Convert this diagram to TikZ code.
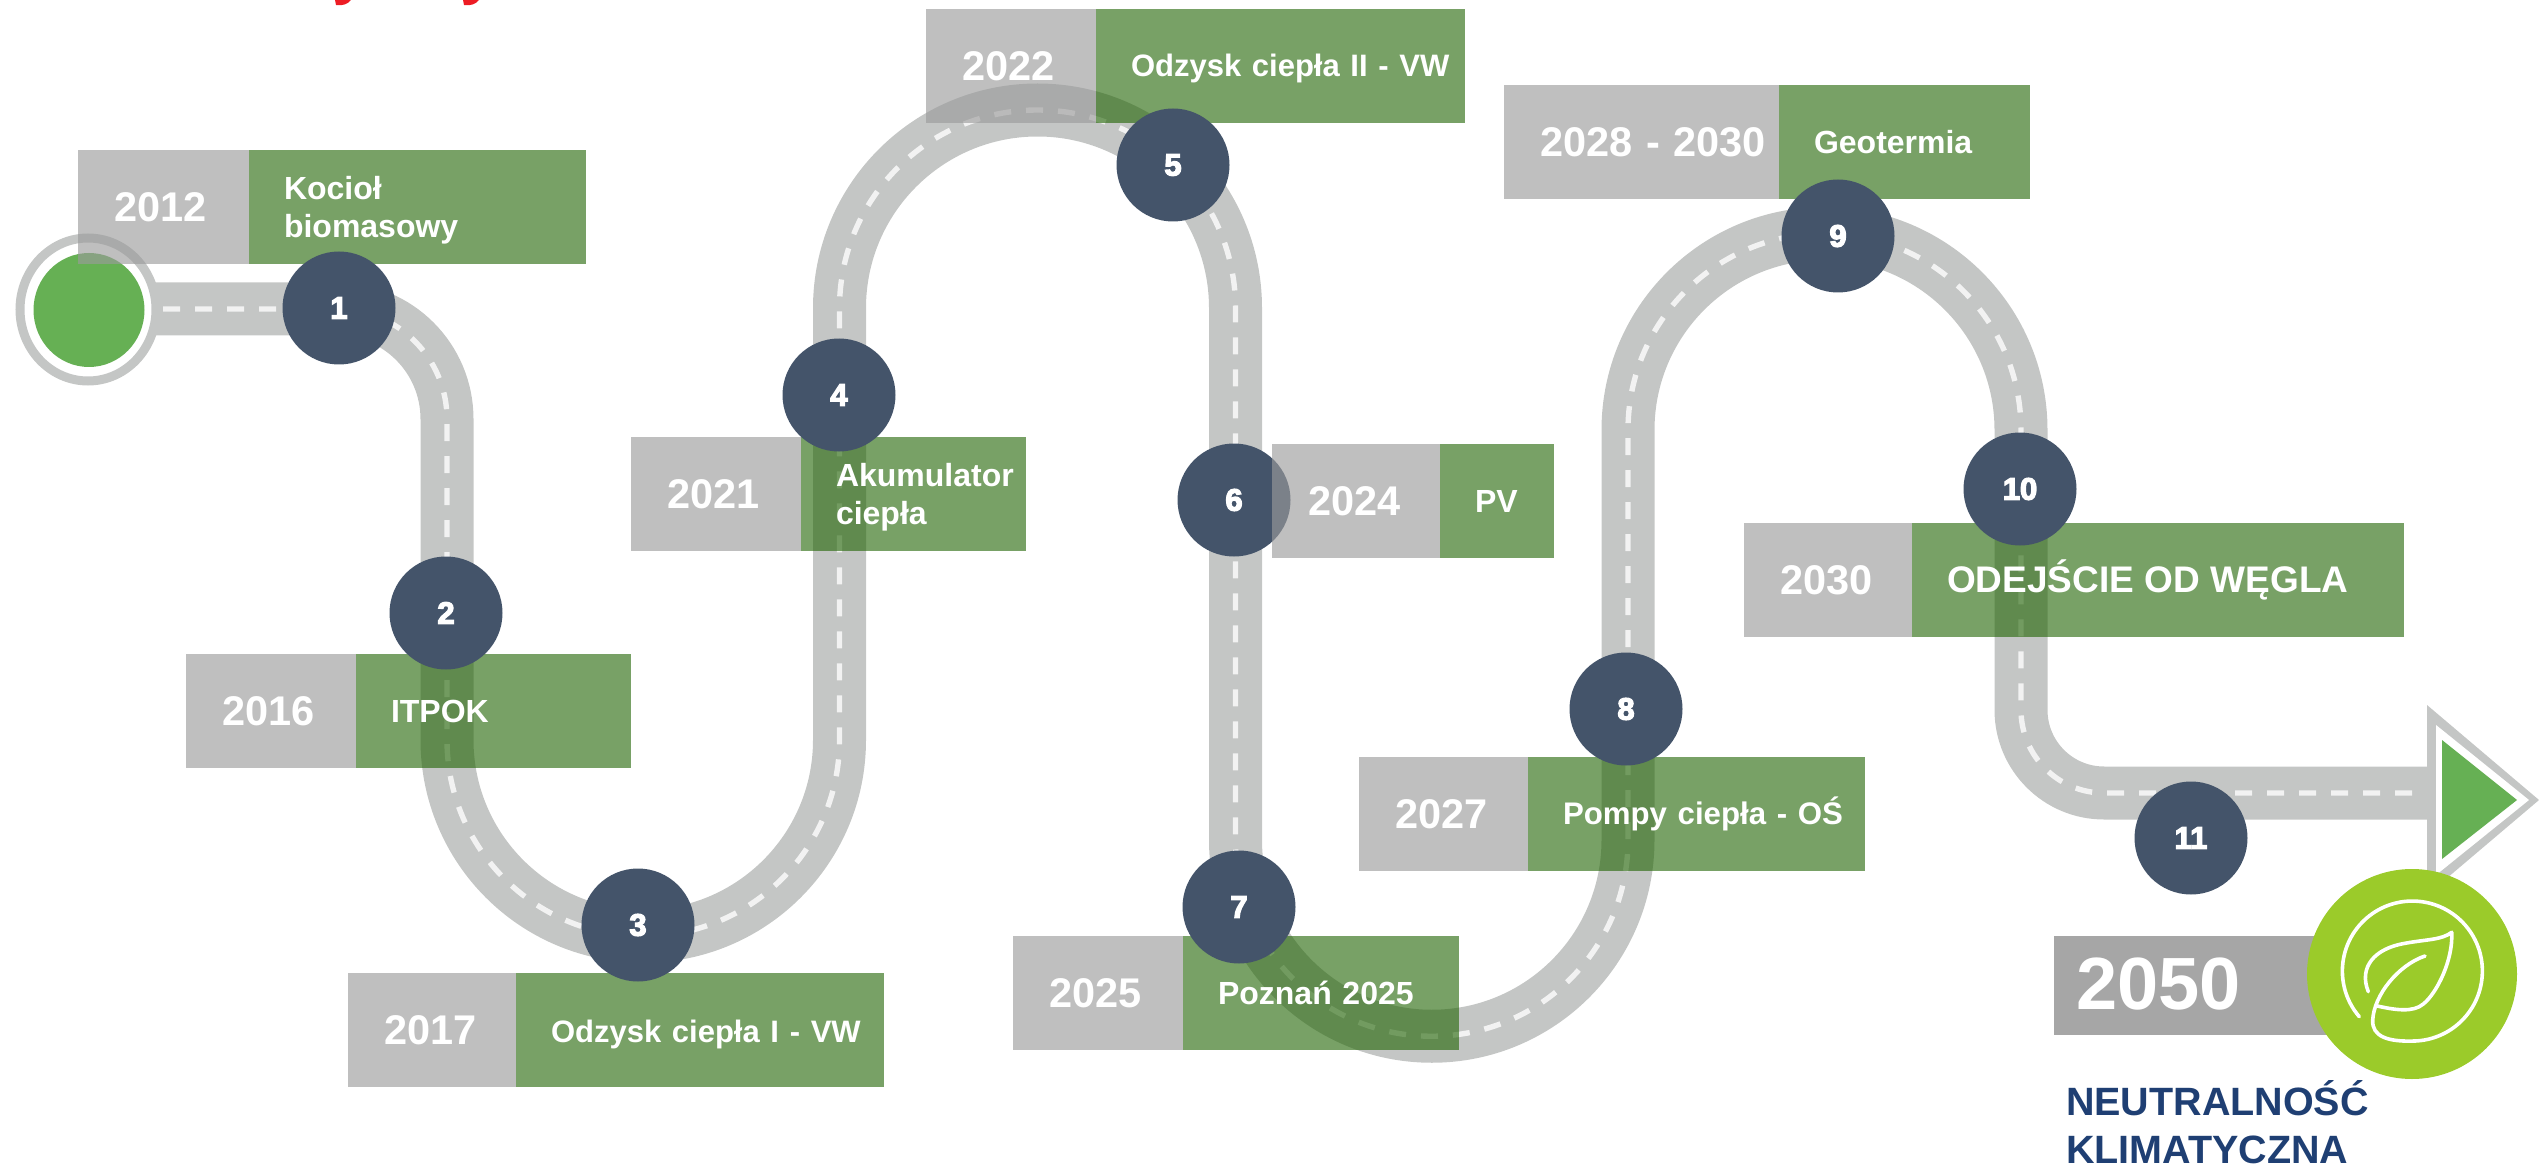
\documentclass[tikz,border=0pt]{standalone}
\usepackage{fontspec}
\setmainfont{Liberation Sans}
\newfontfamily\numf[FakeBold=4]{Liberation Sans Bold}
\definecolor{road}{HTML}{C4C6C5}
\definecolor{dashc}{HTML}{F2F2F2}
\definecolor{startg}{HTML}{66B054}
\definecolor{navy}{HTML}{44546A}
\definecolor{ggreen}{HTML}{1E6200}
\definecolor{ggray}{HTML}{9B9B9B}
\definecolor{leafg}{HTML}{9BCB2A}
\definecolor{gray2050}{HTML}{A6A6A6}
\definecolor{titleblue}{HTML}{1F3F73}
\definecolor{redt}{HTML}{ED1C24}
\tikzset{
  x=0.5pt,y=-0.5pt,
  every node/.style={inner sep=0pt,outer sep=0pt},
  yearbox/.style={anchor=north west,fill=ggray,fill opacity=0.64,text opacity=1,text=white,
    minimum height=57pt,align=left,font=\bfseries\fontsize{20.75}{24}\selectfont},
  labelbox/.style={anchor=north west,fill=ggreen,fill opacity=0.6,text opacity=1,text=white,
    minimum height=57pt,align=left,font=\bfseries\fontsize{16}{19}\selectfont},
  stepdot/.style={circle,fill=navy,minimum size=56.5pt,text=white,font=\numf\fontsize{15.5}{18}\selectfont},
  leafline/.style={white,line width=1.8pt,line cap=round,line join=round},
}
% #1 name, #2 x0, #3 x1, #4 x2, #5 y0, #6 year, #7 label, #8 extra settings for the label
\newcommand{\ms}[8]{%
  \pgfmathsetlengthmacro{\wa}{(#3-#2)*0.5}%
  \pgfmathsetlengthmacro{\wb}{(#4-#3)*0.5}%
  \node[yearbox,minimum width=\wa,text width=\wa] (y#1) at (#2,#5) {\leftskip=18pt #6\par};%
  \node[labelbox,minimum width=\wb,text width=\wb] (l#1) at (#3,#5) {\leftskip=17.5pt #8#7\par};%
}
\begin{document}
\begin{tikzpicture}
\useasboundingbox (0,0) rectangle (2539,1166);
% red fragments of a cut-off line
\fill[redt] (335,0) -- (351,0) .. controls (348,4) and (343,6) .. (336,5) -- cycle;
\fill[redt] (463,0) -- (479,0) .. controls (476,4) and (471,6) .. (464,5) -- cycle;
% road
\draw[road,line width=26.5pt] (89,309) -- (337,309) arc[start angle=-90,end angle=0,radius=110] -- (447,740)
  arc[start angle=180,end angle=0,radius=196.25] -- (839.5,308)
  arc[start angle=180,end angle=360,radius=198] -- (1235.5,840)
  arc[start angle=180,end angle=0,radius=196.25] -- (1628,430)
  arc[start angle=180,end angle=360,radius=196.5] -- (2021,710)
  arc[start angle=180,end angle=90,radius=83] -- (2430,793);
\draw[dashc,line width=2.7pt,dash pattern=on 8.5pt off 7.5pt] (163,309) -- (337,309) arc[start angle=-90,end angle=0,radius=110] -- (447,740)
  arc[start angle=180,end angle=0,radius=196.25] -- (839.5,308)
  arc[start angle=180,end angle=360,radius=198] -- (1235.5,840)
  arc[start angle=180,end angle=0,radius=196.25] -- (1628,430)
  arc[start angle=180,end angle=360,radius=196.5] -- (2021,710)
  arc[start angle=180,end angle=90,radius=83] -- (2427,793);
% start
\draw[road,line width=4.5pt,fill=white] (88,309.5) ellipse[x radius=68,y radius=71.5];
\fill[startg] (89,310) ellipse[x radius=55.5,y radius=57];
% arrow end
\fill[road] (2427,705) -- (2539,800) -- (2427,895) -- cycle;
\fill[white] (2436,725) -- (2529,800) -- (2436,875) -- cycle;
\fill[startg] (2442,740) -- (2517,800) -- (2442,859) -- cycle;
% dot under box
\node[stepdot] (d6) at (1234,500) {6};
% boxes
\ms{a}{78}{249}{586}{150}{2012}{\rule{0pt}{15pt}Kocioł\\biomasowy}{}
\ms{b}{186}{356}{631}{654}{2016}{ITPOK}{}
\ms{c}{348}{516}{884}{973}{2017}{\rule{0pt}{15.5pt}Odzysk ciepła I - VW}{\fontsize{15.5}{19}\selectfont}
\ms{d}{631}{801}{1026}{437}{2021}{\rule{0pt}{15pt}Akumulator\\ciepła}{}
\ms{e}{926}{1096}{1465}{9}{2022}{\rule{0pt}{13.5pt}Odzysk ciepła II - VW}{\fontsize{15.5}{19}\selectfont}
\ms{f}{1272}{1440}{1554}{444}{2024}{PV}{}
\ms{g}{1013}{1183}{1459}{936}{2025}{Poznań 2025}{}
\ms{h}{1359}{1528}{1865}{757}{2027}{Pompy ciepła - OŚ}{\fontsize{15.6}{19}\selectfont}
\ms{i}{1504}{1779}{2030}{85}{2028 - 2030}{Geotermia}{}
\ms{j}{1744}{1912}{2404}{523}{2030}{ODEJŚCIE OD WĘGLA}{\fontsize{18.5}{22}\selectfont}
% dots
\node[stepdot] (d1) at (339,308) {1};
\node[stepdot] (d2) at (446,613) {2};
\node[stepdot] (d3) at (638,925) {3};
\node[stepdot] (d4) at (839,395) {4};
\node[stepdot] (d5) at (1173,165) {5};
\node[stepdot] (d7) at (1239,907) {7};
\node[stepdot] (d8) at (1626,709) {8};
\node[stepdot] (d9) at (1838,236) {9};
\node[stepdot] (d10) at (2020,489) {10};
\node[stepdot] (d11) at (2191,838) {11};
% 2050
\node[anchor=north west,fill=gray2050,minimum width=175pt,minimum height=49.5pt] (y2050) at (2054,936) {};
\node[anchor=base west,text=white,font=\bfseries\fontsize{37}{40}\selectfont] (t2050) at (2076,1009) {2050};
\node[circle,fill=leafg,minimum size=105pt] (leafdot) at (2412,974) {};
\draw[leafline] (2359.3,1016.7) arc[start angle=139.3,end angle=450,radius=70]
  .. controls (2388.3,1041.7) and (2371.7,1036.7) .. (2372.7,1020)
  .. controls (2374,995) and (2398.3,965) .. (2425,956);
\draw[leafline] (2368.3,991.7) .. controls (2358.3,966.7) and (2375,948.3) .. (2405,943.3)
  .. controls (2426.7,939.3) and (2441.7,940) .. (2451.7,932.3)
  .. controls (2453.3,960) and (2436.7,993.3) .. (2423.3,1004)
  .. controls (2413.3,1012.7) and (2395,1010) .. (2377.3,1006);
\node[anchor=base west,align=left,text=titleblue,font=\bfseries\fontsize{19.75}{24}\selectfont] (neutral) at (2066,1115) {NEUTRALNOŚĆ};
\node[anchor=base west,align=left,text=titleblue,font=\bfseries\fontsize{19.75}{24}\selectfont] (klimat) at (2066,1163) {KLIMATYCZNA};
\end{tikzpicture}
\end{document}
